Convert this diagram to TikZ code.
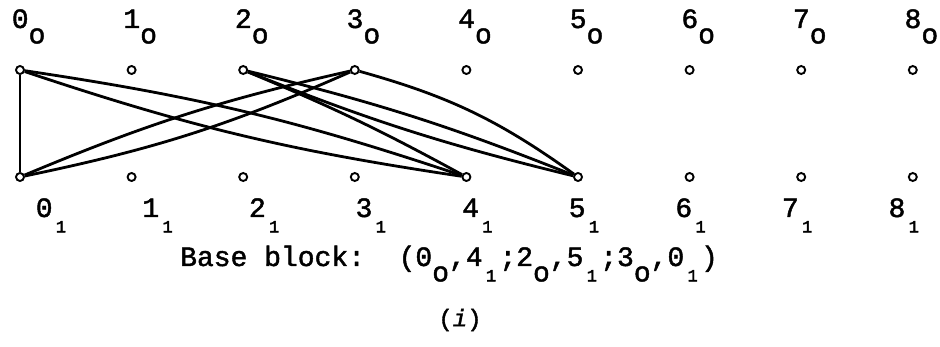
\documentclass[tikz,border=0pt]{standalone}
\usepackage{fontspec}
\setmainfont[FakeBold=1.6,AutoFakeBold=2.5]{Liberation Mono}
\newcommand{\lowo}{\raisebox{-.55em}{o}}
\newcommand{\lowi}{\raisebox{-.55em}{\makebox[.6em]{\fontsize{17}{17}\selectfont\bfseries 1}}}

\begin{document}
\begin{tikzpicture}[
  x=1pt,y=-1pt,
  font=\fontsize{28}{30}\selectfont,
  vertex/.style={
    circle,
    draw,
    fill=white,
    line width=1.9pt,
    minimum size=8pt,
    inner sep=0pt
  },
  label/.style={
    anchor=base west,
    inner sep=0pt
  },
  pair/.style={
    line width=2.8pt
  }
]
\useasboundingbox (0,0) rectangle (940,347);

% the two rows of points
\foreach \i in {0,...,8} {
  \node[vertex] (t\i) at ({20+111.6*\i},70) {};
  \node[vertex] (b\i) at ({20+111.6*\i},177) {};
  \node[label] (lt\i) at ({11.6+111.6*\i},28) {\i\lowo};
  \node[label] (lb\i) at ({35.6+106.6*\i},217) {\i\lowi};
}

% base block
\draw[pair] (t0) -- (b0);
\draw[pair] (t0) to[bend left=5] (b4);
\draw[pair] (t0) to[bend right=5] (b4);
\draw[pair] (t2) to[bend left=3] (b4);
\draw[pair] (t2) to[bend left=4] (b5);
\draw[pair] (t2) to[bend right=4] (b5);
\draw[pair] (t3) to[bend left=10] (b5);
\draw[pair] (b0) to[bend left=5] (t3);
\draw[pair] (b0) to[bend right=6] (t3);

\node[label] (base) at (180,266)
  {Base block:\ \ (0\lowo,4\lowi;2\lowo,5\lowi;3\lowo,0\lowi)};
\node[font=\fontsize{24}{26}\selectfont] (tag) at (460,320) {(\textit{i})};

\end{tikzpicture}
\end{document}
